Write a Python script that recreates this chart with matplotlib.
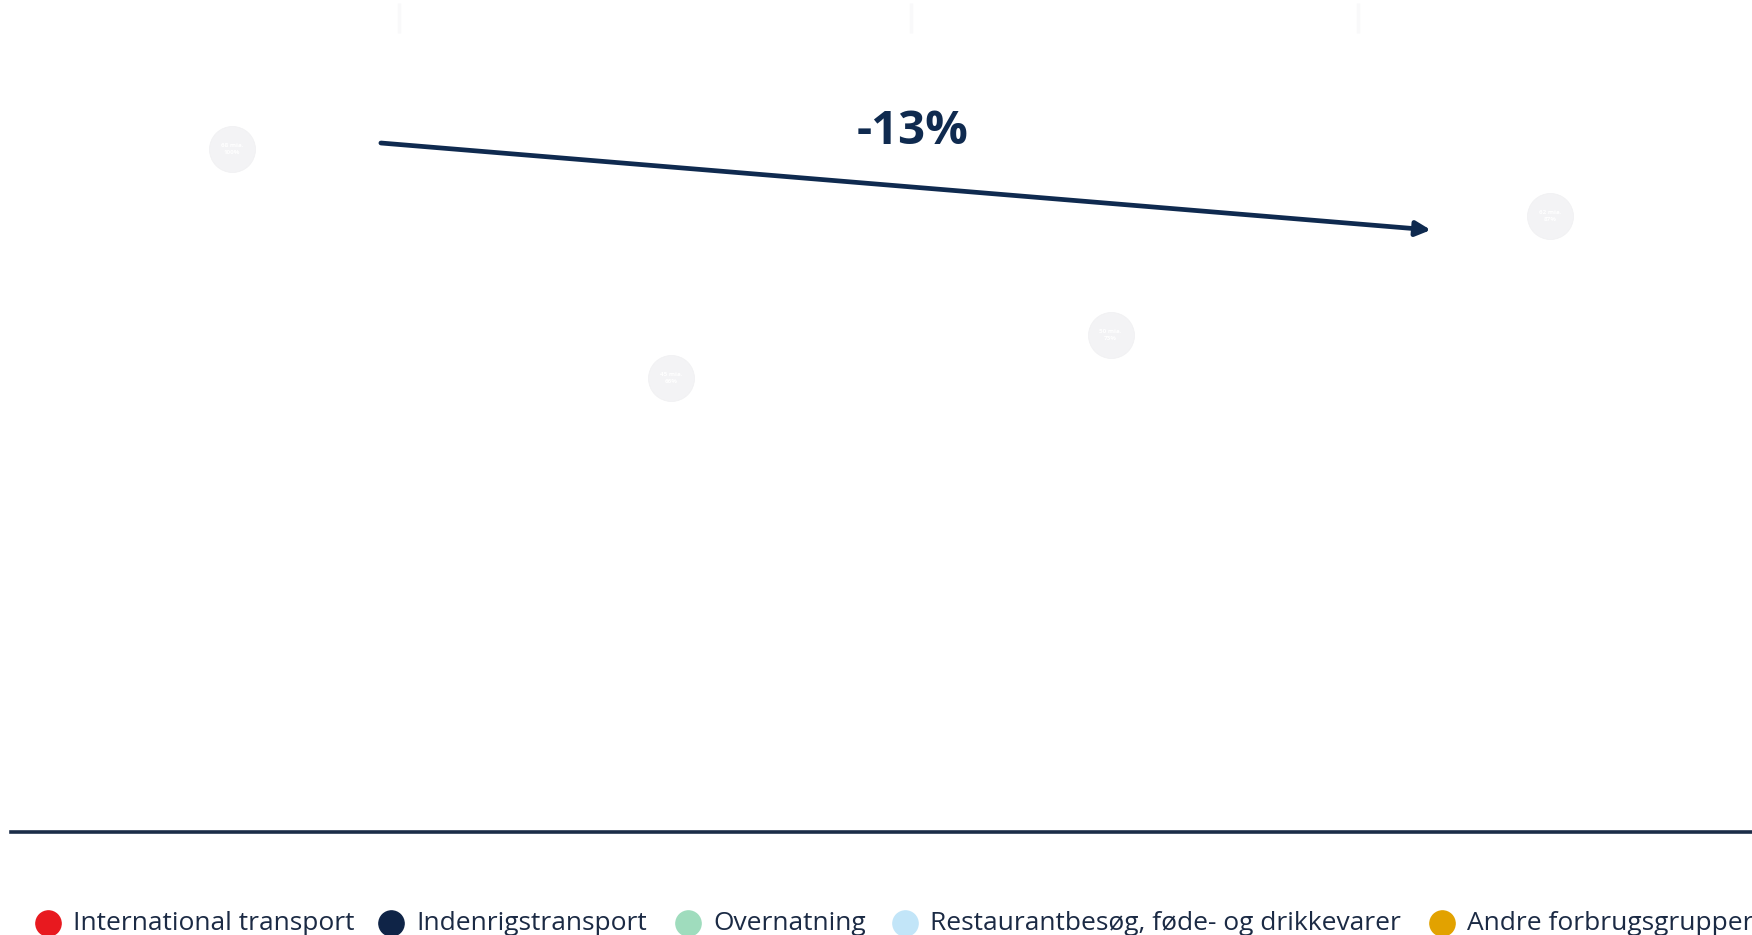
import matplotlib
matplotlib.use("Agg")
import matplotlib.pyplot as plt
import numpy as np

# ---- data ----
categories = ["A", "B", "C", "D"]
totals = [68.3, 45.4, 49.7, 61.6]
circle_labels = ["68 mia.\n100%", "45 mia.\n66%", "50 mia.\n73%", "62 mia.\n87%"]
change_label = "-13%"
legend_labels = ["International transport", "Indenrigstransport", "Overnatning",
                 "Restaurantbesøg, føde- og drikkevarer", "Andre forbrugsgrupper"]
legend_colors = ["#e8191f", "#0f2447", "#9fdcbd", "#c2e5f8", "#e2a200"]

NAVY = "#0f2a4f"
W, H = 1752, 935
plt.rcParams['font.family'] = ['Open Sans', 'DejaVu Sans']

fig = plt.figure(figsize=(W / 100, H / 100), dpi=100)
fig.patch.set_facecolor("white")

# main axes: bottom at the baseline (y=832 px), full width
base_px = 832
ax = fig.add_axes([0, (H - base_px) / H, 1, base_px / H])
ax.set_xlim(-0.528, 3.46)
ax.set_ylim(0, 83.2)
ax.axis("off")

x = np.arange(len(categories))

# faint dividers at the top
div_x = [0.38, 1.546, 2.563]
ax.vlines(div_x, 79.9, 82.9, color="#f9f9fa", lw=2.5)

# baseline
ax.axhline(0, xmin=11 / W, xmax=1, color="#1b2d48", lw=2.6, clip_on=False)

# faint label circles at the totals
ax.scatter(x, totals, s=1100, color="#f3f3f5", edgecolor="#f0f0f2", lw=0.5, zorder=3)
for xi, t, lab in zip(x, totals, circle_labels):
    ax.text(xi, t, lab, ha="center", va="center", fontsize=4.5, color="white",
            fontweight="bold", zorder=4, linespacing=1.3)

# arrow from first to last total
ax.annotate("", xy=(x[-1] - 0.271, totals[-1] - 1.4), xytext=(x[0] + 0.339, totals[0] + 0.6),
            arrowprops=dict(arrowstyle="-|>", color=NAVY, lw=3.4, mutation_scale=22,
                            shrinkA=0, shrinkB=0), zorder=5)
ax.text(1.55, 70.1, change_label, ha="center", va="center", fontsize=34,
        fontweight="bold", color=NAVY)

# legend (manual row at the bottom)
lax = fig.add_axes([0, 0, 1, 1])
lax.set_xlim(0, W)
lax.set_ylim(H, 0)
lax.axis("off")
dot_x = [48, 391, 688, 905, 1442]
leg_y = 923
for dx, lab, col in zip(dot_x, legend_labels, legend_colors):
    lax.scatter([dx], [leg_y], s=330, color=col, zorder=3, clip_on=False)
    lax.text(dx + 25, leg_y, lab, ha="left", va="center", fontsize=19,
             color="#1b2a44")

fig.savefig("out.png", dpi=100, facecolor="white")
